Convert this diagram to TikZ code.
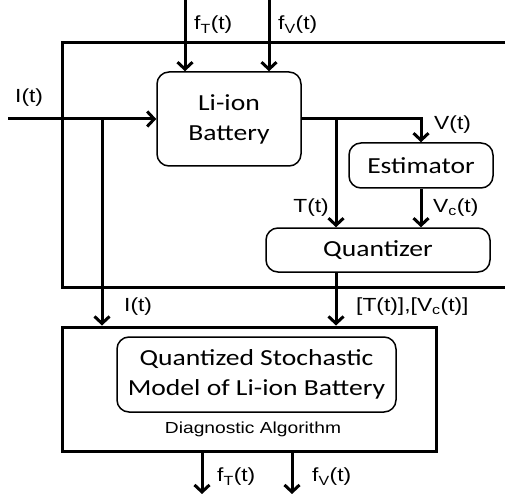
\documentclass[tikz,border=0pt]{standalone}
\usepackage{fontspec}
\setmainfont[FakeStretch=1.2]{Liberation Sans}
\newfontfamily\boxfont[FakeStretch=1.2]{Carlito}
\usepackage{tikz}
\usetikzlibrary{arrows.meta}

\begin{document}
\begin{tikzpicture}[
    x=1pt, y=-1pt,
    box/.style={draw, rounded corners=12pt, line width=1.5pt, align=center, inner sep=0pt, font=\boxfont\fontsize{23}{30}\selectfont},
    frame/.style={draw, line width=3pt, inner sep=0pt},
    arrow/.style={-{Straight Barb[length=7pt,width=15pt]}, line width=3pt},
    lbl/.style={inner sep=0pt, font=\fontsize{19}{22}\selectfont}
]
\useasboundingbox (0,0) rectangle (505,494);

\node[box, minimum width=144pt, minimum height=94pt] (battery) at (229,119) {Li-ion\\Battery};
\node[box, minimum width=144pt, minimum height=45pt] (estim) at (421,165.5) {Estimator};
\node[box, minimum width=224pt, minimum height=44pt] (quant) at (378,250) {Quantizer};
\node[frame, minimum width=374pt, minimum height=124pt] (diag) at (249,389) {};
\node[box, minimum width=279pt, minimum height=75pt] (model) at (256.5,374.5) {Quantized Stochastic\\Model of Li-ion Battery};
\node[lbl, font=\fontsize{16}{18}\selectfont] (algo) at (253,429) {Diagnostic Algorithm};

% open frame round the battery part
\draw[line width=3pt] (505,43) -- (62,43) -- (62,287) -- (505,287);

\coordinate (fTin) at (185,0);
\coordinate (fVin) at (269,0);
\coordinate (Iin) at (8,119);
\coordinate (Ibr) at (102,119);
\coordinate (Tbr) at (336,119);
\coordinate (fTout) at (202,494);
\coordinate (fVout) at (292,494);

\draw[arrow] (fTin) -- (fTin |- battery.north);
\draw[arrow] (fVin) -- (fVin |- battery.north);
\draw[arrow] (Iin) -- (battery.west);
\draw[arrow] (Ibr) -- (Ibr |- diag.north);
\draw[arrow] (battery.east) -| (estim.north);
\draw[arrow] (Tbr) -- (Tbr |- quant.north);
\draw[arrow] (estim.south) -- (estim.south |- quant.north);
\draw[arrow] (Tbr |- quant.south) -- (Tbr |- diag.north);
\draw[arrow] (fTout |- diag.south) -- (fTout);
\draw[arrow] (fVout |- diag.south) -- (fVout);

\node[lbl, anchor=west] (fTinlbl) at (194,25) {f\textsubscript{T}(t)};
\node[lbl, anchor=west] (fVinlbl) at (278,25) {f\textsubscript{V}(t)};
\node[lbl, anchor=west] (Iinlbl) at (15,98) {I(t)};
\node[lbl, anchor=west] (Vlbl) at (434,125) {V(t)};
\node[lbl, anchor=east] (Tlbl) at (329,208) {T(t)};
\node[lbl, anchor=west] (Vclbl) at (433,208) {V\textsubscript{c}(t)};
\node[lbl, anchor=west] (Ibrlbl) at (124,307) {I(t)};
\node[lbl, anchor=west] (qlbl) at (356,307) {[T(t)],[V\textsubscript{c}(t)]};
\node[lbl, anchor=west] (fToutlbl) at (217,477) {f\textsubscript{T}(t)};
\node[lbl, anchor=west] (fVoutlbl) at (312,477) {f\textsubscript{V}(t)};

\end{tikzpicture}
\end{document}
